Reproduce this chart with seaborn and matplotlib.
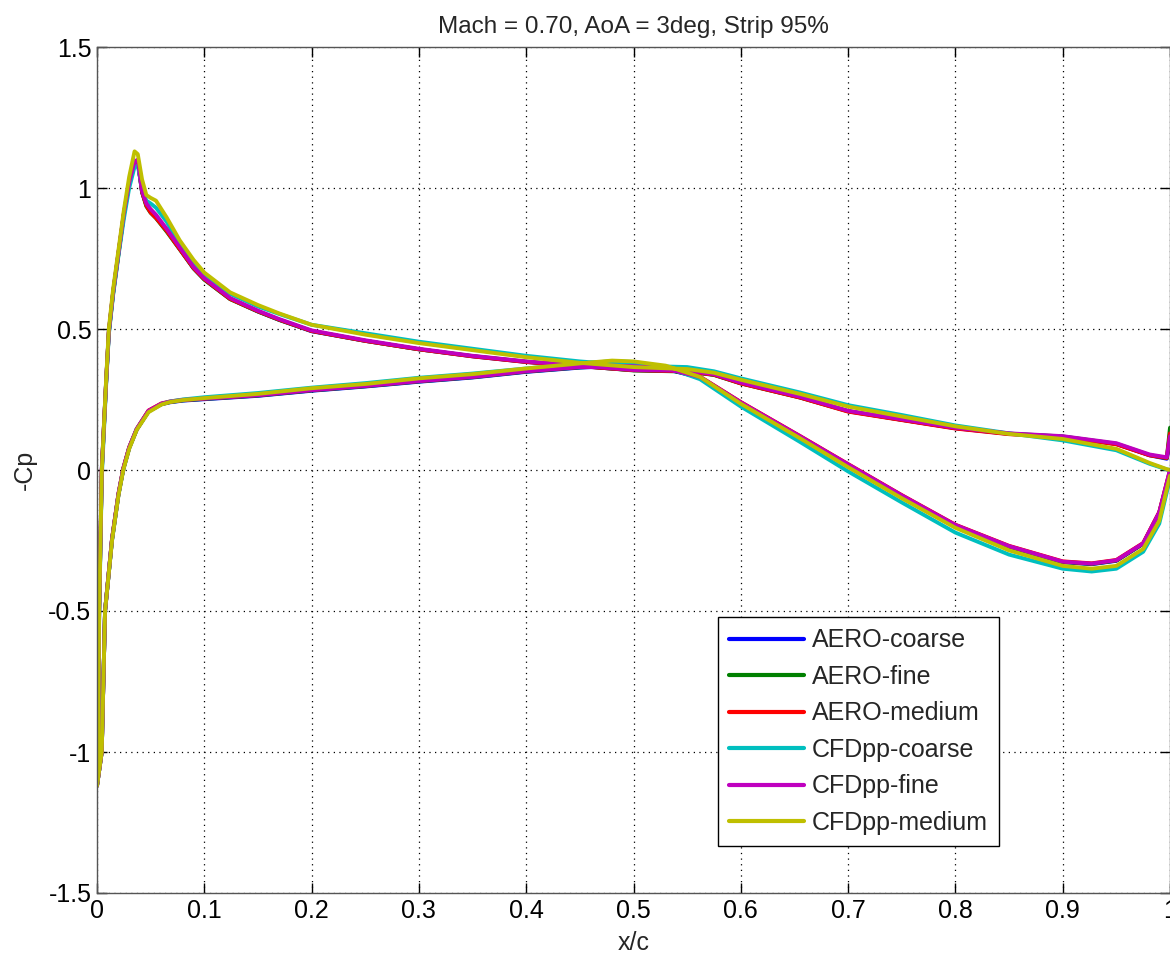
import matplotlib
matplotlib.use("Agg")
import matplotlib.pyplot as plt
import numpy as np
import pandas as pd
import seaborn as sns

# Chordwise stations (x/c) for the upper and lower surfaces
X_UPPER = [0.0, 0.001, 0.002, 0.0045, 0.0085, 0.011, 0.015, 0.02, 0.025, 0.03,
           0.035, 0.038, 0.042, 0.046, 0.05, 0.055, 0.065, 0.077, 0.09, 0.1,
           0.124, 0.15, 0.17, 0.2, 0.25, 0.3, 0.35, 0.4, 0.45, 0.5,
           0.55, 0.575, 0.6, 0.655, 0.7, 0.75, 0.8, 0.85, 0.9, 0.95,
           0.981, 0.997, 1.0]
X_LOWER = [0.0, 0.0044, 0.0075, 0.014, 0.02, 0.0245, 0.03, 0.037, 0.048, 0.06,
           0.068, 0.08, 0.1, 0.15, 0.2, 0.25, 0.3, 0.35, 0.4, 0.45,
           0.48, 0.5, 0.53, 0.562, 0.6, 0.655, 0.7, 0.75, 0.8, 0.85,
           0.9, 0.927, 0.95, 0.975, 0.99, 1.0]

SERIES = ["AERO-coarse", "AERO-fine", "AERO-medium",
          "CFDpp-coarse", "CFDpp-fine", "CFDpp-medium"]
COLORS = ["#0000ff", "#008000", "#ff0000", "#00bfbf", "#bf00bf", "#bfbf00"]

# -Cp on the upper surface
AERO_COARSE_UP = [-1.12, -0.99, -0.49, 0.01, 0.315, 0.49, 0.63, 0.77, 0.905, 1.015,
                  1.09, 1.095, 0.985, 0.94, 0.915, 0.895, 0.85, 0.785, 0.715, 0.676,
                  0.607, 0.562, 0.532, 0.492, 0.458, 0.428, 0.403, 0.383, 0.368, 0.354,
                  0.35, 0.338, 0.308, 0.258, 0.209, 0.178, 0.148, 0.128, 0.118, 0.092,
                  0.052, 0.04, 0.10]
AERO_FINE_UP = [-1.12, -0.99, -0.5, 0.0, 0.31, 0.485, 0.625, 0.765, 0.905, 1.015,
                1.09, 1.095, 0.985, 0.935, 0.912, 0.893, 0.845, 0.783, 0.715, 0.675,
                0.606, 0.562, 0.532, 0.493, 0.458, 0.428, 0.404, 0.384, 0.369, 0.353,
                0.349, 0.337, 0.307, 0.257, 0.208, 0.178, 0.149, 0.129, 0.119, 0.093,
                0.053, 0.042, 0.15]
AERO_MEDIUM_UP = [-1.12, -0.99, -0.5, 0.005, 0.312, 0.488, 0.628, 0.768, 0.908, 1.018,
                  1.092, 1.098, 0.987, 0.938, 0.913, 0.894, 0.848, 0.784, 0.716, 0.677,
                  0.607, 0.563, 0.533, 0.493, 0.458, 0.428, 0.403, 0.383, 0.368, 0.354,
                  0.35, 0.338, 0.307, 0.257, 0.207, 0.177, 0.147, 0.127, 0.117, 0.091,
                  0.052, 0.043, 0.13]
CFDPP_COARSE_UP = [-1.12, -1.0, -0.52, -0.02, 0.30, 0.48, 0.62, 0.76, 0.89, 1.0,
                   1.075, 1.08, 1.0, 0.955, 0.945, 0.93, 0.88, 0.80, 0.735, 0.695,
                   0.625, 0.58, 0.553, 0.515, 0.485, 0.455, 0.43, 0.405, 0.385, 0.37,
                   0.365, 0.35, 0.325, 0.275, 0.23, 0.195, 0.158, 0.13, 0.105, 0.07,
                   0.022, 0.002, 0.0]
CFDPP_FINE_UP = [-1.12, -0.98, -0.5, 0.0, 0.31, 0.49, 0.63, 0.77, 0.91, 1.02,
                 1.095, 1.10, 0.99, 0.945, 0.925, 0.905, 0.855, 0.79, 0.72, 0.68,
                 0.61, 0.565, 0.535, 0.495, 0.46, 0.43, 0.405, 0.385, 0.37, 0.355,
                 0.352, 0.34, 0.31, 0.26, 0.21, 0.18, 0.15, 0.13, 0.12, 0.095,
                 0.055, 0.045, 0.12]
CFDPP_MEDIUM_UP = [-1.12, -1.0, -0.5, 0.0, 0.32, 0.5, 0.64, 0.78, 0.92, 1.04,
                   1.13, 1.12, 1.03, 0.975, 0.965, 0.955, 0.895, 0.815, 0.745, 0.70,
                   0.63, 0.585, 0.555, 0.515, 0.48, 0.45, 0.425, 0.40, 0.38, 0.365,
                   0.358, 0.345, 0.32, 0.27, 0.225, 0.19, 0.155, 0.128, 0.11, 0.075,
                   0.025, 0.003, 0.0]

# -Cp on the lower surface
AERO_COARSE_LO = [-1.12, -1.0, -0.5, -0.247, -0.087, 0.003, 0.078, 0.143, 0.208, 0.233,
                  0.24, 0.246, 0.251, 0.263, 0.281, 0.296, 0.313, 0.328, 0.348, 0.363,
                  0.368, 0.366, 0.358, 0.328, 0.238, 0.118, 0.018, -0.092, -0.197, -0.272,
                  -0.327, -0.334, -0.322, -0.262, -0.152, -0.01]
AERO_FINE_LO = [-1.12, -1.0, -0.5, -0.246, -0.086, 0.004, 0.079, 0.144, 0.209, 0.234,
                0.241, 0.247, 0.252, 0.264, 0.282, 0.297, 0.314, 0.329, 0.349, 0.364,
                0.369, 0.367, 0.359, 0.329, 0.239, 0.119, 0.019, -0.091, -0.196, -0.271,
                -0.326, -0.333, -0.321, -0.261, -0.151, -0.005]
AERO_MEDIUM_LO = [-1.12, -1.0, -0.5, -0.244, -0.084, 0.006, 0.081, 0.146, 0.211, 0.236,
                  0.243, 0.249, 0.254, 0.266, 0.284, 0.299, 0.316, 0.331, 0.351, 0.366,
                  0.371, 0.369, 0.361, 0.331, 0.241, 0.121, 0.021, -0.089, -0.194, -0.269,
                  -0.324, -0.331, -0.319, -0.259, -0.149, 0.0]
CFDPP_COARSE_LO = [-1.12, -1.0, -0.5, -0.25, -0.088, 0.002, 0.078, 0.145, 0.207, 0.234,
                   0.243, 0.25, 0.258, 0.273, 0.292, 0.308, 0.327, 0.342, 0.36, 0.377,
                   0.386, 0.383, 0.365, 0.322, 0.225, 0.10, -0.005, -0.115, -0.222, -0.30,
                   -0.35, -0.36, -0.35, -0.29, -0.19, -0.03]
CFDPP_FINE_LO = [-1.12, -1.0, -0.5, -0.245, -0.085, 0.005, 0.08, 0.145, 0.21, 0.235,
                 0.242, 0.248, 0.253, 0.265, 0.283, 0.298, 0.315, 0.33, 0.35, 0.365,
                 0.37, 0.368, 0.36, 0.33, 0.24, 0.12, 0.02, -0.09, -0.195, -0.27,
                 -0.325, -0.332, -0.32, -0.26, -0.15, 0.0]
CFDPP_MEDIUM_LO = [-1.12, -1.0, -0.5, -0.25, -0.09, 0.0, 0.075, 0.142, 0.205, 0.232,
                   0.241, 0.248, 0.255, 0.27, 0.29, 0.305, 0.325, 0.34, 0.36, 0.378,
                   0.388, 0.385, 0.37, 0.33, 0.235, 0.113, 0.01, -0.10, -0.205, -0.285,
                   -0.34, -0.35, -0.34, -0.28, -0.18, -0.02]

X_TICKS = [0, 0.1, 0.2, 0.3, 0.4, 0.5, 0.6, 0.7, 0.8, 0.9, 1]
Y_TICKS = [-1.5, -1, -0.5, 0, 0.5, 1, 1.5]

upper = [AERO_COARSE_UP, AERO_FINE_UP, AERO_MEDIUM_UP,
         CFDPP_COARSE_UP, CFDPP_FINE_UP, CFDPP_MEDIUM_UP]
lower = [AERO_COARSE_LO, AERO_FINE_LO, AERO_MEDIUM_LO,
         CFDPP_COARSE_LO, CFDPP_FINE_LO, CFDPP_MEDIUM_LO]

# Each curve runs trailing edge -> lower surface -> leading edge -> upper surface -> trailing edge
frames = []
for name, up, lo in zip(SERIES, upper, lower):
    xs = X_LOWER[::-1] + X_UPPER[1:]
    ys = lo[::-1] + up[1:]
    frames.append(pd.DataFrame({"x/c": xs, "-Cp": ys, "series": name,
                                "order": np.arange(len(xs))}))
df = pd.concat(frames, ignore_index=True)

sns.set_style("ticks")
plt.rcParams["font.family"] = ["Liberation Sans", "DejaVu Sans"]
plt.rcParams["axes.unicode_minus"] = False

fig = plt.figure(figsize=(11.7, 9.57), dpi=100)
ax = fig.add_axes([97 / 1170, 64 / 957, 1073 / 1170, 846 / 957])

sns.lineplot(data=df, x="x/c", y="-Cp", hue="series", hue_order=SERIES,
             palette=COLORS, sort=False, estimator=None, linewidth=2.8, ax=ax)

ax.set_xlim(0, 1)
ax.set_ylim(-1.5, 1.5)
ax.set_xticks(X_TICKS)
ax.set_xticklabels([f"{v:g}" for v in X_TICKS])
ax.set_yticks(Y_TICKS)
ax.set_yticklabels([f"{v:g}" for v in Y_TICKS])
ax.tick_params(direction="in", top=True, right=True, length=7, width=1,
               labelsize=18, colors="k", pad=4)
ax.grid(True, color="k", linestyle=(0, (1, 3.5)), linewidth=0.9)
for sp in ax.spines.values():
    sp.set_color("#555555")
    sp.set_linewidth(1.0)

ax.set_xlabel("x/c", fontsize=18, labelpad=6)
ax.set_ylabel("-Cp", fontsize=18, labelpad=8)
ax.set_title("Mach = 0.70, AoA = 3deg, Strip 95%", fontsize=17.5, pad=10)

handles, labels = ax.get_legend_handles_labels()
leg = ax.legend(handles, labels, loc="upper left",
                bbox_to_anchor=((718 - 97) / 1073, (893 - 617) / 846),
                borderaxespad=0, frameon=True, fancybox=False, edgecolor="k",
                framealpha=1, fontsize=18, handlelength=3.0, handletextpad=0.3,
                labelspacing=0.5, borderpad=0.45)
leg.get_frame().set_linewidth(1.0)
for ln in leg.get_lines():
    ln.set_linewidth(3)

fig.savefig("out.png", dpi=100)
